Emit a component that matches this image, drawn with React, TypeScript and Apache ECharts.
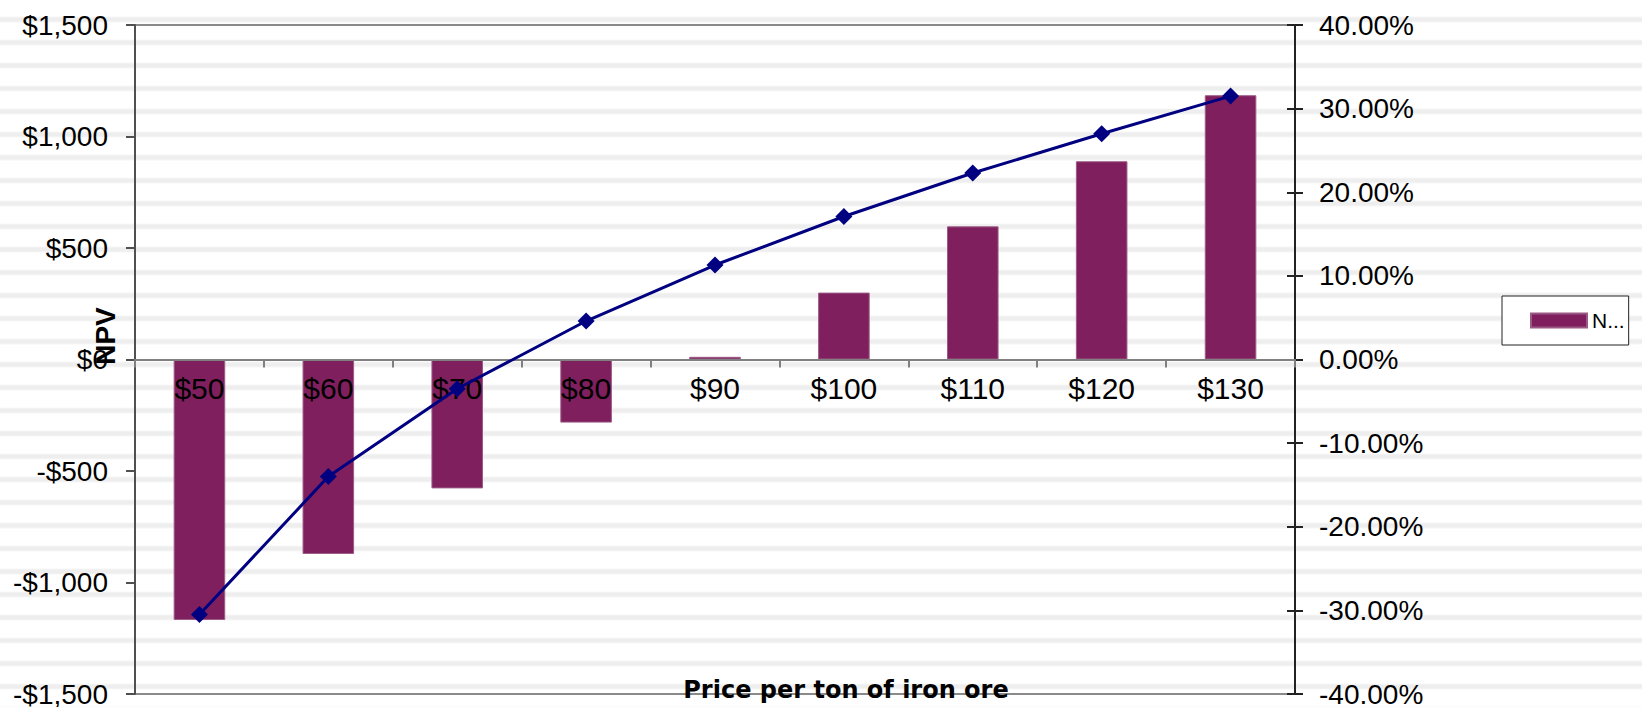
import React, { useEffect, useRef } from "react";
import * as echarts from "echarts";

// Iron ore price scenarios
const categories: string[] = ["$50", "$60", "$70", "$80", "$90", "$100", "$110", "$120", "$130"];
// Net present value per scenario ($)
const npvValues: number[] = [-1168, -872, -578, -283, 12, 300, 597, 889, 1185];
// Internal rate of return per scenario (%)
const irrValues: number[] = [-30.5, -14.0, -3.5, 4.6, 11.3, 17.1, 22.3, 27.0, 31.5];

const npvAxis = { min: -1500, max: 1500, interval: 500 };
const irrAxis = { min: -40, max: 40, interval: 10 };

const xTitle = "Price per ton of iron ore";
const yTitle = "NPV";

const BAR_COLOR = "#7F1F5E";
const LINE_COLOR = "#000080";
const SANS = "'Liberation Sans', Arial, sans-serif";

// plot box
const GRID_TOP = 25;
const GRID_BOTTOM = 13;
const CHART_H = 707;
const PLOT_H = CHART_H - GRID_TOP - GRID_BOTTOM;

function formatDollar(v: number): string {
  const s = "$" + Math.abs(v).toLocaleString("en-US");
  return v < 0 ? "-" + s : s;
}

export default function App() {
  const ref = useRef<HTMLDivElement>(null);

  useEffect(() => {
    if (!ref.current) return;
    const chart = echarts.init(ref.current, undefined, { renderer: "svg" });

    // the NPV range is symmetric, so the category axis sits halfway up the plot
    const zeroShift = -PLOT_H * (0 - npvAxis.min) / (npvAxis.max - npvAxis.min);

    chart.setOption({
      animation: false,
      backgroundColor: "transparent",
      textStyle: { fontFamily: SANS },
      grid: {
        left: 135,
        right: 347,
        top: GRID_TOP,
        bottom: GRID_BOTTOM,
        containLabel: false,
        outerBoundsMode: "none",
        show: true,
        borderColor: "#8a8a8a",
        borderWidth: 2,
        backgroundColor: "transparent",
      },
      legend: {
        data: ["NPV"],
        left: 1502,
        top: 296,
        orient: "vertical",
        icon: "rect",
        itemWidth: 56,
        itemHeight: 14,
        padding: [14, 4, 14, 28],
        borderColor: "#222",
        borderWidth: 1,
        backgroundColor: "#fff",
        selectedMode: false,
        textStyle: {
          fontFamily: SANS,
          fontSize: 21,
          color: "#000",
          width: 34,
          overflow: "truncate",
          ellipsis: "...",
        },
      },
      xAxis: {
        type: "category",
        data: categories,
        boundaryGap: true,
        position: "bottom",
        offset: zeroShift,
        axisLine: { onZero: false, lineStyle: { color: "#808080", width: 2 } },
        axisTick: { show: true, length: 8, lineStyle: { color: "#808080", width: 2 } },
        axisLabel: {
          margin: 14,
          fontSize: 30,
          fontFamily: SANS,
          color: "#000",
        },
        splitLine: { show: false },
        z: 5,
      },
      yAxis: [
        {
          type: "value",
          position: "left",
          min: npvAxis.min,
          max: npvAxis.max,
          interval: npvAxis.interval,
          axisLine: { show: true, lineStyle: { color: "#505050", width: 2 } },
          axisTick: { show: true, length: 9, lineStyle: { color: "#505050", width: 2 } },
          axisLabel: { margin: 27, fontSize: 28, color: "#000", formatter: formatDollar },
          splitLine: { show: false },
        },
        {
          type: "value",
          position: "right",
          min: irrAxis.min,
          max: irrAxis.max,
          interval: irrAxis.interval,
          axisLine: { show: true, lineStyle: { color: "#222", width: 2 } },
          axisTick: { show: true, length: 8, lineStyle: { color: "#222", width: 2 } },
          axisLabel: {
            margin: 24,
            fontSize: 28,
            color: "#000",
            formatter: (v: number) => v.toFixed(2) + "%",
          },
          splitLine: { show: false },
        },
        {
          // inner half of the crossing ticks on the IRR axis
          type: "value",
          position: "right",
          min: irrAxis.min,
          max: irrAxis.max,
          interval: irrAxis.interval,
          axisLine: { show: false },
          axisTick: { show: true, inside: true, length: 8, lineStyle: { color: "#222", width: 2 } },
          axisLabel: { show: false },
          splitLine: { show: false },
        },
      ],
      series: [
        {
          name: "NPV",
          type: "bar",
          yAxisIndex: 0,
          data: npvValues,
          barWidth: "40%",
          itemStyle: { color: BAR_COLOR, borderColor: "#9b5a85", borderWidth: 1 },
          z: 2,
        },
        {
          name: "IRR",
          type: "line",
          yAxisIndex: 1,
          data: irrValues,
          symbol: "diamond",
          symbolSize: 17,
          lineStyle: { color: LINE_COLOR, width: 3 },
          itemStyle: { color: LINE_COLOR },
          z: 6,
        },
      ],
      graphic: [
        {
          type: "text",
          x: 105,
          y: 336,
          rotation: Math.PI / 2,
          z: 10,
          style: {
            text: yTitle,
            fontFamily: SANS,
            fontWeight: "bold",
            fontSize: 28,
            fill: "#000",
            align: "center",
            verticalAlign: "middle",
          },
        },
        {
          type: "text",
          x: 846,
          y: 690,
          z: 10,
          style: {
            text: xTitle,
            fontFamily: "'DejaVu Sans', sans-serif",
            fontWeight: "bold",
            fontSize: 24,
            fill: "#000",
            align: "center",
            verticalAlign: "middle",
          },
        },
      ],
    });

    return () => chart.dispose();
  }, []);

  return (
    <div
      style={{
        position: "fixed",
        left: 0,
        top: 0,
        width: 1642,
        height: CHART_H,
        background:
          "repeating-linear-gradient(to bottom, #ffffff 0px, #ffffff 16px, #eeeeee 18px, #eeeeee 21px, #ffffff 23px)",
      }}
    >
      <div ref={ref} style={{ width: 1642, height: CHART_H }} />
    </div>
  );
}
